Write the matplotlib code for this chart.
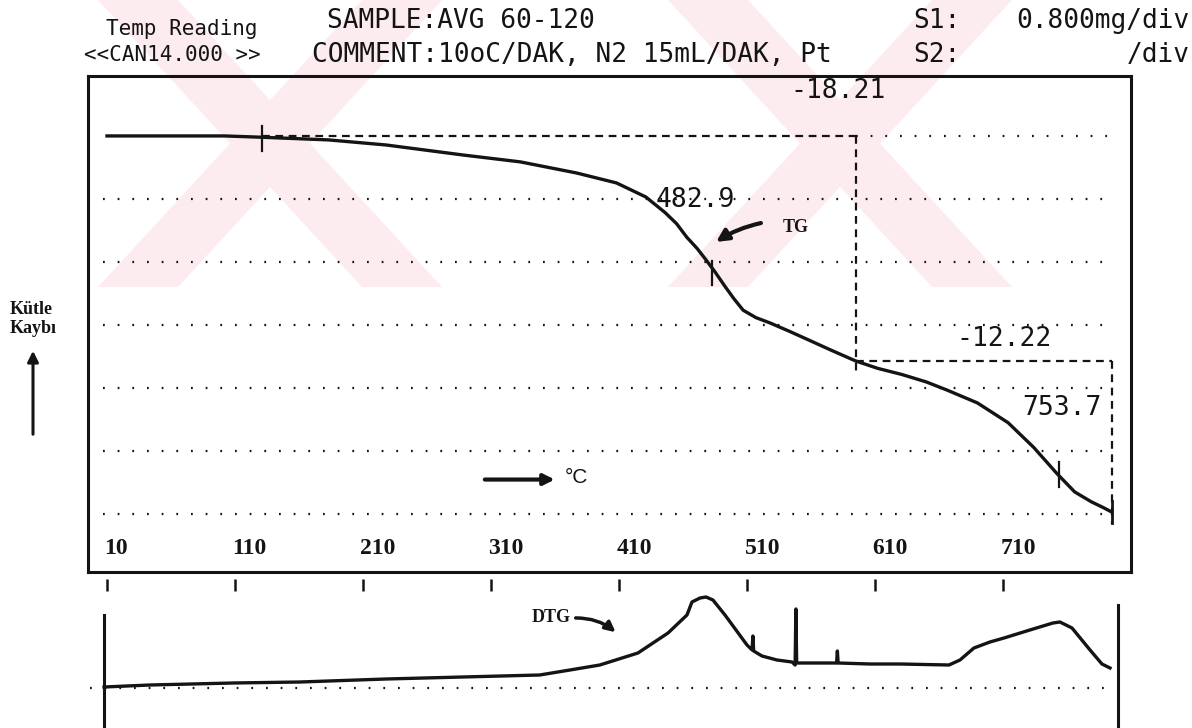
import matplotlib.pyplot as plt
from matplotlib.patches import Polygon, FancyArrowPatch

# TG curve: temperature (degC) vs remaining mass (%)
tg_temp = [10, 102, 129.5, 183, 228, 288, 333, 377, 408, 431, 446, 455, 463, 471,
           478, 485, 493, 500, 507, 517, 528, 543, 558, 575, 595, 612, 631, 650,
           666, 690, 714, 734, 752, 766, 779, 788, 795]
tg_mass = [100.0, 100.0, 99.9, 99.68, 99.27, 98.46, 97.9, 97.0, 96.2, 95.06, 93.8,
           92.9, 91.8, 90.9, 89.97, 89.0, 87.8, 86.8, 85.9, 85.3, 84.87, 84.2, 83.5,
           82.7, 81.79, 81.2, 80.7, 80.1, 79.45, 78.4, 76.8, 74.8, 72.7, 71.2, 70.4,
           69.95, 69.57]

# DTG curve (arbitrary units, baseline = 0)
dtg_temp = [7.7, 43.6, 108.4, 160.8, 228, 288, 348, 371.7, 395, 424.8, 448.3, 463.1,
            467, 473.3, 478, 483.4, 492.8, 501.4, 510, 514.0, 514.6, 515.2, 521.7,
            533.4, 545.2, 547.6, 548.2, 548.8, 554.5, 580.0, 580.6, 581.2, 606,
            629.5, 667.8, 676.4, 687.3, 699.8, 710.8, 731, 749, 754.5, 763.9, 778,
            787.3, 793.6]
dtg_val = [0.1, 0.3, 0.5, 0.6, 0.9, 1.1, 1.3, 1.8, 2.3, 3.5, 5.5, 7.3,
           8.6, 9.0, 9.1, 8.8, 7.3, 5.8, 4.3, 3.8, 5.2, 3.7, 3.2,
           2.8, 2.6, 2.3, 7.9, 2.5, 2.5, 2.5, 3.7, 2.5, 2.4,
           2.4, 2.3, 2.8, 4.0, 4.6, 5.0, 5.8, 6.5, 6.6, 6.0, 3.8,
           2.4, 2.0]

x_labels = ['10', '110', '210', '310', '410', '510', '610', '710']
x_ticks = [10, 110, 210, 310, 410, 510, 610, 710]
grid_levels = [94.9, 89.8, 84.7, 79.6, 74.5, 69.4]

# step analysis results
step1_start, step1_end = 131, 595
step1_loss = 18.21
step2_end = 795
step2_loss = 12.22
tg_marks = [131, 482.9, 753.7]
peak1_label, peak2_label = '482.9', '753.7'

W, H = 1192, 728
ink = '#141414'
mono = 'DejaVu Sans Mono'
serif = 'Liberation Serif'


def fx(x):
    return x / W


def fy(y):
    return 1 - y / H


fig = plt.figure(figsize=(W / 100, H / 100), dpi=100)

# faint pink watermark: two crossed pairs of diagonal bands
pink = '#fdecef'
half = 40
for cx in [270, 840]:
    for top, bot in [(cx + 132, cx - 132), (cx - 132, cx + 132)]:
        band = Polygon([(fx(bot - half), fy(287)), (fx(bot + half), fy(287)),
                        (fx(top + half), fy(0)), (fx(top - half), fy(0))],
                       closed=True, transform=fig.transFigure,
                       facecolor=pink, edgecolor='none', zorder=-5)
        fig.patches.append(band)

# ---- upper panel: TG ----
ax = fig.add_axes([fx(88), fy(572), (1131 - 88) / W, (572 - 76) / H])
ax.patch.set_alpha(0)
ax.set_zorder(2)
ax.set_xlim(-4.84, 810)
ax.set_ylim(64.72, 104.85)
ax.set_xticks([])
ax.set_yticks([])
for s in ax.spines.values():
    s.set_linewidth(2.2)
    s.set_color(ink)

dots = dict(color=ink, lw=1.6, linestyle=(0, (0.8, 5.8)))
for lv in grid_levels:
    ax.plot([6.9, 797.5], [lv, lv], **dots)
ax.plot([step1_end, 797.5], [100, 100], **dots)

ax.plot(tg_temp, tg_mass, color=ink, lw=2.4, solid_joinstyle='round')

# step markers
m1 = 100.0
m2 = m1 - step1_loss
m3 = m2 - step2_loss
dash = dict(color=ink, lw=1.6, linestyle=(0, (3.5, 2.5)))
ax.plot([step1_start, step1_end], [m1, m1], **dash)
ax.plot([step1_end, step1_end], [m1, m2 - 1.1], **dash)
ax.plot([step1_end, step2_end], [m2, m2], **dash)
ax.plot([step2_end, step2_end], [m2, m3 - 1.0], **dash)

for t in tg_marks:
    i = min(range(len(tg_temp)), key=lambda k: abs(tg_temp[k] - t))
    m = tg_mass[i]
    ax.plot([t, t], [m - 1.1, m + 0.9], color=ink, lw=1.6)
ax.plot([step2_end, step2_end], [m3 - 0.9, m3 + 0.9], color=ink, lw=2)

num = dict(fontsize=19, family=mono, va='center', color=ink)
ax.text(581, 103.6, f'-{step1_loss:.2f}', ha='center', **num)
ax.text(711, 83.6, f'-{step2_loss:.2f}', ha='center', **num)
ax.text(470, 94.8, peak1_label, ha='center', **num)
ax.text(787, 78.0, peak2_label, ha='right', **num)

ax.annotate('', xy=(484, 91.3), xytext=(523, 93.0),
            arrowprops=dict(arrowstyle='-|>', color=ink, lw=3, mutation_scale=18,
                            connectionstyle='arc3,rad=0.1'))
ax.text(538, 92.6, 'TG', fontsize=13, family=serif, weight='bold', ha='left', va='center', color=ink)

ax.annotate('', xy=(362, 72.2), xytext=(303, 72.2),
            arrowprops=dict(arrowstyle='-|>', color=ink, lw=3, mutation_scale=16))
ax.text(368, 72.4, '°C', fontsize=15, family='Liberation Sans', ha='left', va='center', color=ink)

for t, lab in zip(x_ticks, x_labels):
    ax.text(t - 2, 0.048, lab, transform=ax.get_xaxis_transform(), fontsize=17,
            family=serif, weight='bold', ha='left', va='center', color=ink)

# ---- lower panel: DTG ----
ax2 = fig.add_axes([fx(88), 0, (1131 - 88) / W, (728 - 575) / H])
ax2.set_zorder(2)
ax2.set_xlim(-4.84, 810)
ax2.set_ylim(-4.0, 11.3)
ax2.axis('off')

ax2.vlines(x_ticks, 9.7, 10.9, color=ink, lw=1.8)
ax2.plot([7.7, 7.7], [7.3, -4.0], color=ink, lw=2.2)
ax2.plot([799.8, 799.8], [8.3, -4.0], color=ink, lw=2.2)
ax2.plot([-3.3, 789.7], [0, 0], **dots)
ax2.plot(dtg_temp, dtg_val, color=ink, lw=2.4, solid_joinstyle='round')

ax2.text(372, 7.1, 'DTG', fontsize=13, family=serif, weight='bold', ha='right', va='center', color=ink)
ax2.annotate('', xy=(409, 5.4), xytext=(374, 7.0),
             arrowprops=dict(arrowstyle='-|>', color=ink, lw=2.5, mutation_scale=15,
                             connectionstyle='arc3,rad=-0.2'))

# ---- header and side text ----
small = dict(fontsize=15, family=mono, va='center', color=ink)
big = dict(fontsize=18.8, family=mono, va='center', color=ink)
fig.text(fx(106), fy(29), 'Temp Reading', **small)
fig.text(fx(84), fy(55), '<<CAN14.000 >>', **small)
fig.text(fx(327), fy(21), 'SAMPLE:AVG 60-120', **big)
fig.text(fx(312), fy(55), 'COMMENT:10oC/DAK, N2 15mL/DAK, Pt', **big)
fig.text(fx(913), fy(21), 'S1:', **big)
fig.text(fx(1190), fy(21), '0.800mg/div', ha='right', **big)
fig.text(fx(913), fy(55), 'S2:', **big)
fig.text(fx(1190), fy(55), '/div', ha='right', **big)

fig.text(fx(10), fy(309), 'Kütle', fontsize=13, family=serif, weight='bold', va='center', color=ink)
fig.text(fx(10), fy(329), 'Kaybı', fontsize=13, family=serif, weight='bold', va='center', color=ink)
fig.patches.append(FancyArrowPatch(
    (fx(33), fy(437)), (fx(33), fy(348)), transform=fig.transFigure,
    arrowstyle='-|>', mutation_scale=16, lw=2.2, color=ink))

fig.savefig('out.png', dpi=100)
